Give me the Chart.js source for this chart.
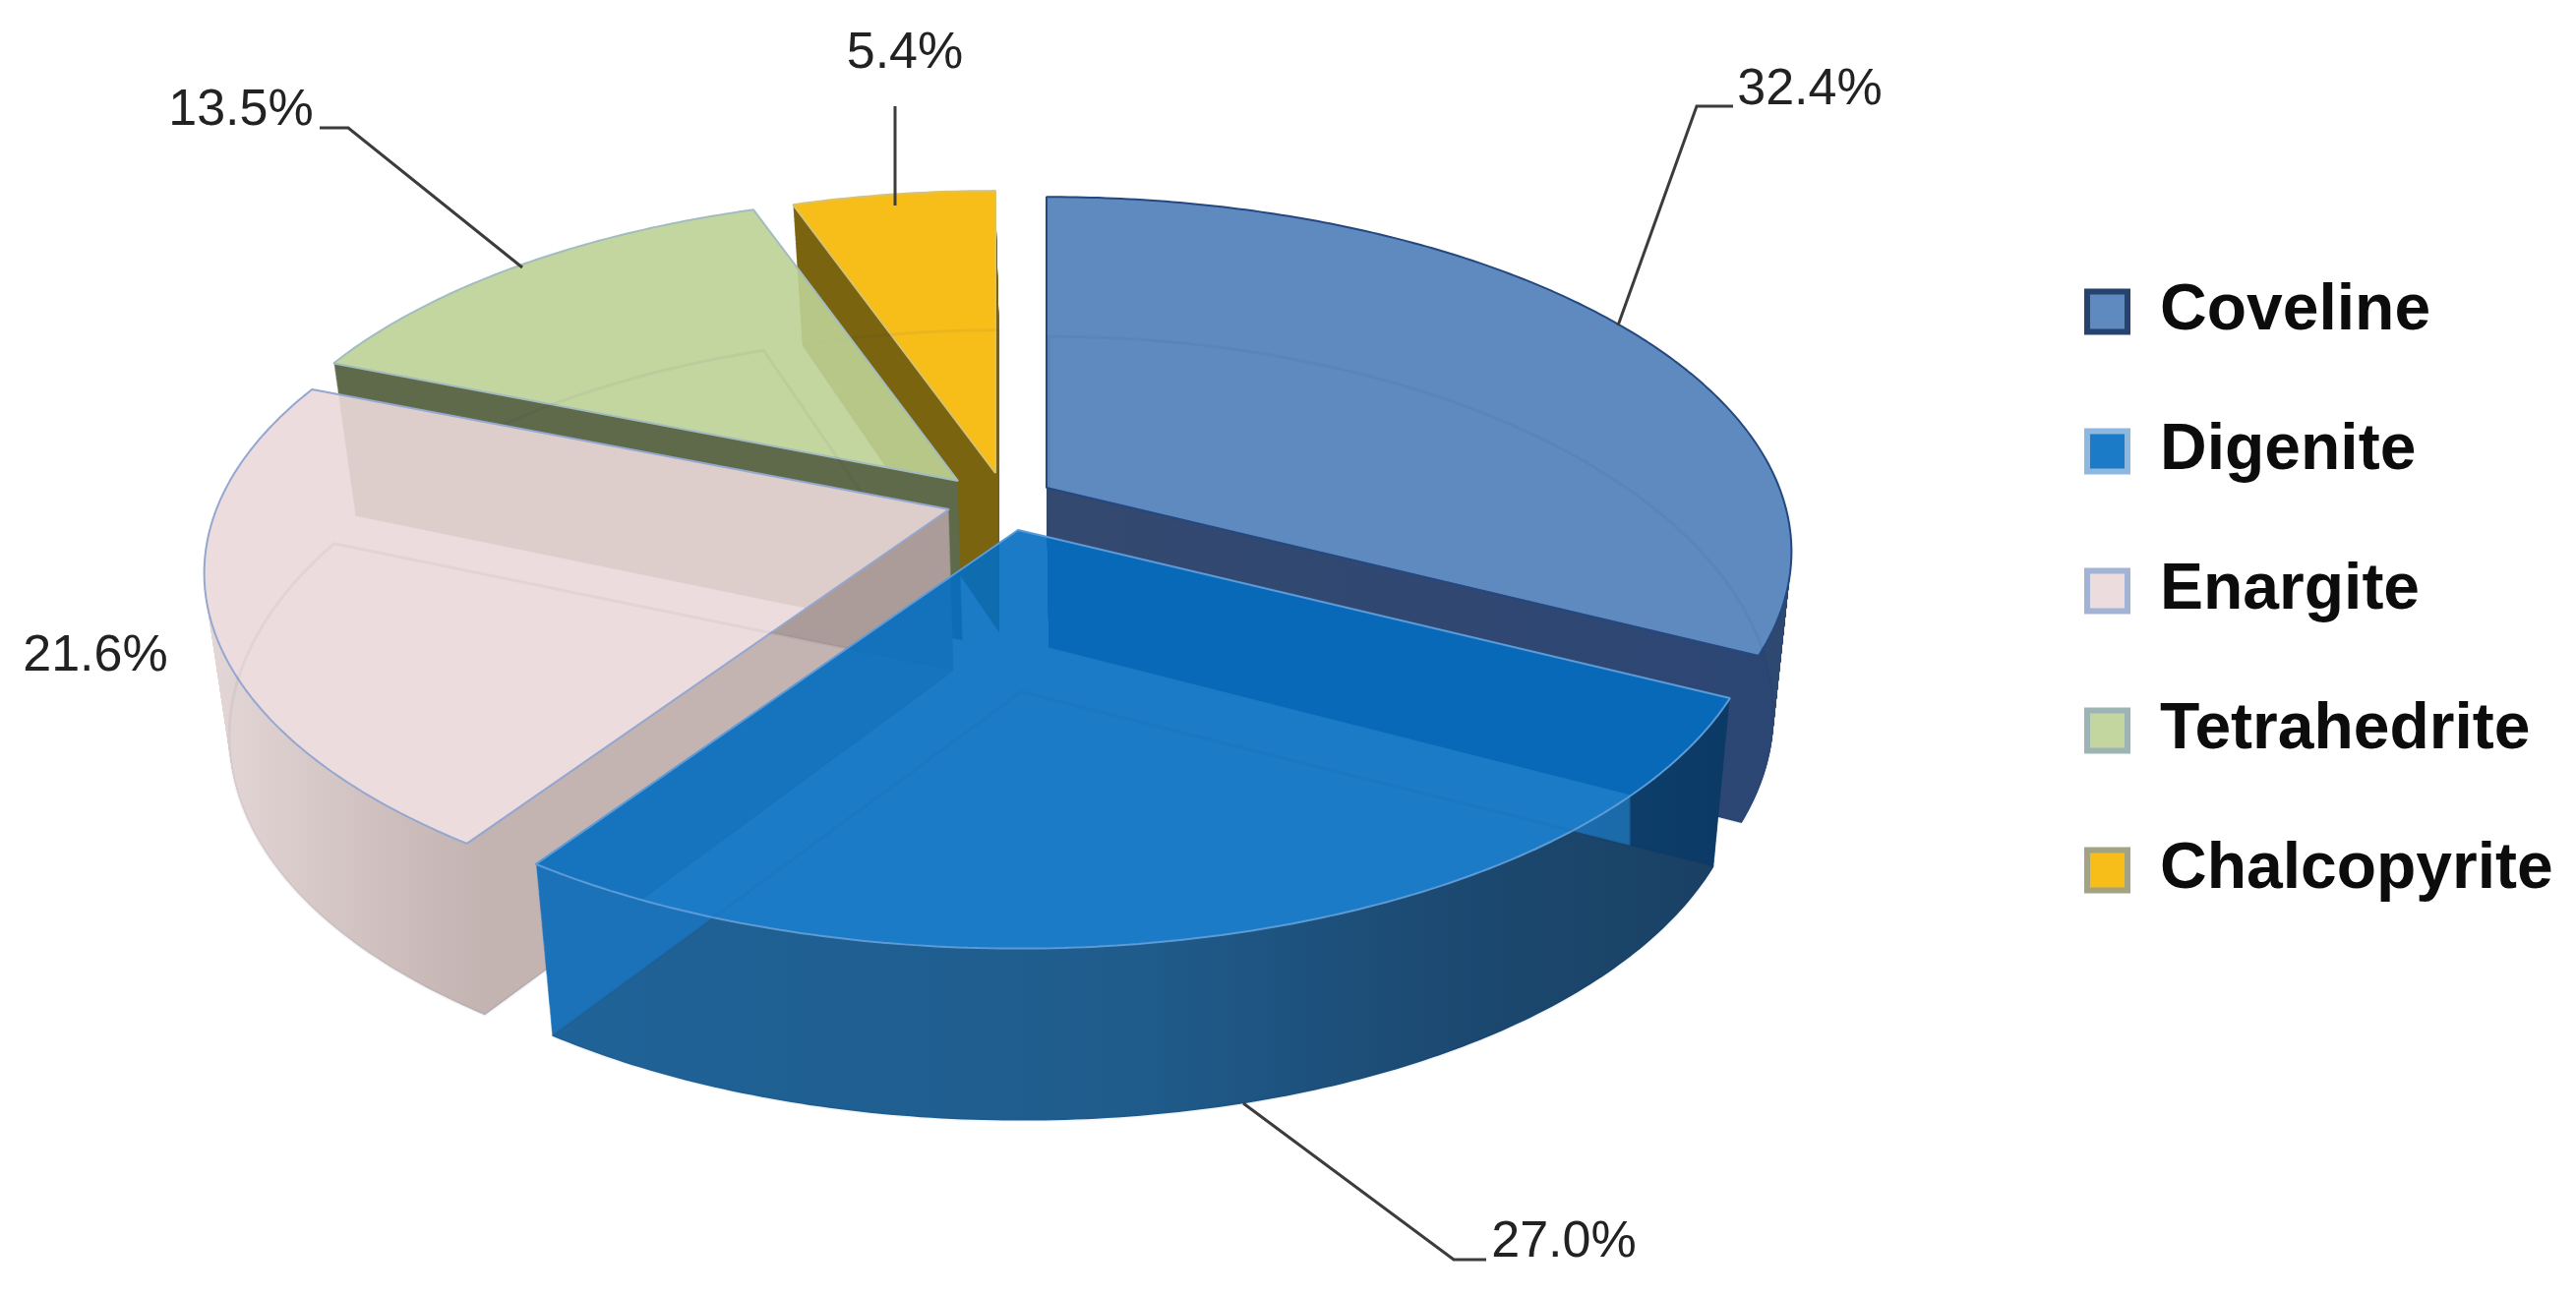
<!DOCTYPE html>
<html><head><meta charset="utf-8">
<script src="https://cdn.jsdelivr.net/npm/chart.js@4/dist/chart.umd.js"></script>
<style>html,body{margin:0;padding:0;background:#fff}canvas{display:block}</style>
</head><body><canvas id="c" width="2619" height="1318"></canvas>
<script>
const categories = ['Coveline','Digenite','Enargite','Tetrahedrite','Chalcopyrite'];
const shares = [32.4,27.0,21.6,13.5,5.4];
const faceColors = ['rgba(77,125,185,.9)','rgba(3,109,192,.9)','rgba(235,216,217,.9)','rgba(190,209,149,.9)','rgba(246,183,0,.9)'];
const edgeColors = ['#24487f','#5d9bd8','#93a7d0','#a3bcc0','#d8c26f'];
const legendEdges = ['#26426f','#8db8e0','#a3b3d6','#9db4b4','#a3a383'];
const drawOrder = [4,3,0,2,1];

// camera: perspective of the pie's top plane, and how the base converges below it
const camera = {f:745, g:349, p:-0.18, baseShrink:0.027, vanishX:1150};
// where each exploded slice's tip lands
const slices = [
  {tx:1064,ty:496,k:1},
  {tx:1035,ty:539,k:1},
  {tx:965, ty:518,k:1},
  {tx:974, ty:489,k:0.98},
  {tx:1012,ty:481,k:0.97}
];
// wall shading: [x0,x1,[stop,colour]...] across the page
const cutWalls = [
  [1064,1830,[0,'#34496f'],[1,'#2f4872']],
  [1500,1760,[0,'#1b72b8'],[.6,'#1b6aa8'],[.61,'#0d3d69'],[1,'#0c3a66']],
  [210,490,[0,'#e4d7d7'],[.95,'#c3b3b1'],[.951,'#ab9c9a'],[1,'#ab9c9a']],
  [0,2619,[0,'#5e6a4a'],[1,'#5e6a4a']],
  [0,2619,[0,'#7a6410'],[1,'#7a6410']]
];
const rimWalls = [
  [1064,1830,[0,'#34496f'],[1,'#2c4674']],
  [550,1760,[0,'#1f6398'],[.5,'#1f5c8c'],[.75,'#1c4a72'],[1,'#1a4063']],
  [210,490,[0,'#e4d7d7'],[1,'#c3b3b1']],
  [0,2619,[0,'#5e6a4a'],[1,'#5e6a4a']],
  [0,2619,[0,'#7a6410'],[1,'#7a6410']]
];
const labelSpots = [
  {x:1840,y:92, line:[[1645,331],[1725,108],[1762,108]]},
  {x:1590,y:1264,line:[[1264,1122],[1478,1281],[1511,1281]]},
  {x:97,  y:668,line:[]},
  {x:245, y:113,line:[[531,272],[354,130],[325,130]]},
  {x:920, y:55, line:[[910,209],[910,108]]}
];

Chart.defaults.font.family = '"Liberation Sans", Arial, sans-serif';

function project(px,py,arc,s,t){
  const X=(px-arc.x)/arc.outerRadius, Y=(py-arc.y)/arc.outerRadius;
  const w=1+camera.p*Y;
  let x=s.tx+s.k*camera.f*X/w, y=s.ty+s.k*camera.g*Y/w;
  if(t){
    const q=(965-y)/765;
    y+=t*(175-33*q*q);
    x=camera.vanishX+(x-camera.vanishX)*(1-camera.baseShrink*t);
  }
  return [x,y];
}
// a drawing context that passes the library's arc path through the camera
function lens(real,arc,s,t){
  const over={
    moveTo(x,y){const p=project(x,y,arc,s,t);real.moveTo(p[0],p[1]);},
    lineTo(x,y){const p=project(x,y,arc,s,t);real.lineTo(p[0],p[1]);},
    translate(){},
    arc(cx,cy,r,a0,a1,ccw){
      if(!ccw&&a1<a0)a1+=Math.PI*2;
      if(ccw&&a0<a1)a0+=Math.PI*2;
      const n=Math.max(1,Math.ceil(Math.abs(a1-a0)/0.012));
      for(let i=0;i<=n;i++){
        const a=a0+(a1-a0)*i/n;
        const p=project(cx+r*Math.cos(a),cy+r*Math.sin(a),arc,s,t);
        real.lineTo(p[0],p[1]);
      }
    }
  };
  return new Proxy(real,{
    get(T,k){ if(k in over) return over[k]; const v=T[k]; return typeof v==='function'?v.bind(T):v; },
    set(T,k,v){T[k]=v;return true;}
  });
}
function paint(arc,ctx,s,t,style){
  const el=Object.create(arc);
  el.options=Object.assign({},arc.options,style);
  el.draw(lens(ctx,arc,s,t));
}
function shade(ctx,spec){
  const g=ctx.createLinearGradient(spec[0],0,spec[1],0);
  spec.slice(2).forEach(c=>g.addColorStop(c[0],c[1]));
  return g;
}

const pie3d = {
  id:'pie3d',
  beforeDraw(chart){ chart.legend.left = 2046; },
  beforeDatasetDraw(chart){
    const main = chart.ctx;
    const arcs = chart.getDatasetMeta(0).data;
    drawOrder.forEach(i=>{
      const arc=arcs[i], s=slices[i];
      const off=document.createElement('canvas');
      off.width=chart.width; off.height=chart.height;
      const o=off.getContext('2d');
      const steps=180;
      const cut=shade(o,cutWalls[i]);
      for(let n=steps;n>=1;n--) paint(arc,o,s,n/steps,{backgroundColor:cut,borderWidth:0});
      o.globalCompositeOperation='source-atop';
      paint(arc,o,s,1,{backgroundColor:shade(o,rimWalls[i]),borderWidth:0});
      o.globalCompositeOperation='destination-out';
      paint(arc,o,s,0,{backgroundColor:'#000',borderWidth:0});
      o.globalCompositeOperation='source-over';
      paint(arc,o,s,0,{});
      paint(arc,o,s,1,{backgroundColor:'rgba(0,0,0,0)',borderColor:'rgba(20,40,90,.05)',borderWidth:3});
      main.drawImage(off,0,0);
    });
    return false;
  },
  afterDatasetsDraw(chart){
    const ctx=chart.ctx;
    ctx.save();
    ctx.strokeStyle='#3c3c3c'; ctx.lineWidth=3;
    ctx.font='52px "Liberation Sans"'; ctx.fillStyle='#222';
    ctx.textAlign='center'; ctx.textBaseline='middle';
    shares.forEach((v,i)=>{
      const p=labelSpots[i];
      if(p.line.length){
        ctx.beginPath();
        p.line.forEach((q,k)=> k?ctx.lineTo(q[0],q[1]):ctx.moveTo(q[0],q[1]));
        ctx.stroke();
      }
      ctx.fillText(v.toFixed(1)+'%',p.x,p.y);
    });
    ctx.restore();
  }
};

new Chart(document.getElementById('c'),{
  type:'pie',
  data:{labels:categories,datasets:[{data:shares,backgroundColor:faceColors,borderColor:edgeColors,borderWidth:2}]},
  options:{
    responsive:false,animation:false,
    layout:{padding:{bottom:116}},
    plugins:{
      tooltip:{enabled:false},
      legend:{
        position:'right',
        labels:{
          color:'#0c0c0c',boxWidth:41,boxHeight:41,padding:76,
          font:{size:66,weight:'bold'},
          generateLabels(chart){
            return Chart.overrides.pie.plugins.legend.labels.generateLabels(chart).map((l,i)=>
              Object.assign(l,{lineWidth:6,strokeStyle:legendEdges[i]}));
          }
        }
      }
    }
  },
  plugins:[pie3d]
});
</script></body></html>
